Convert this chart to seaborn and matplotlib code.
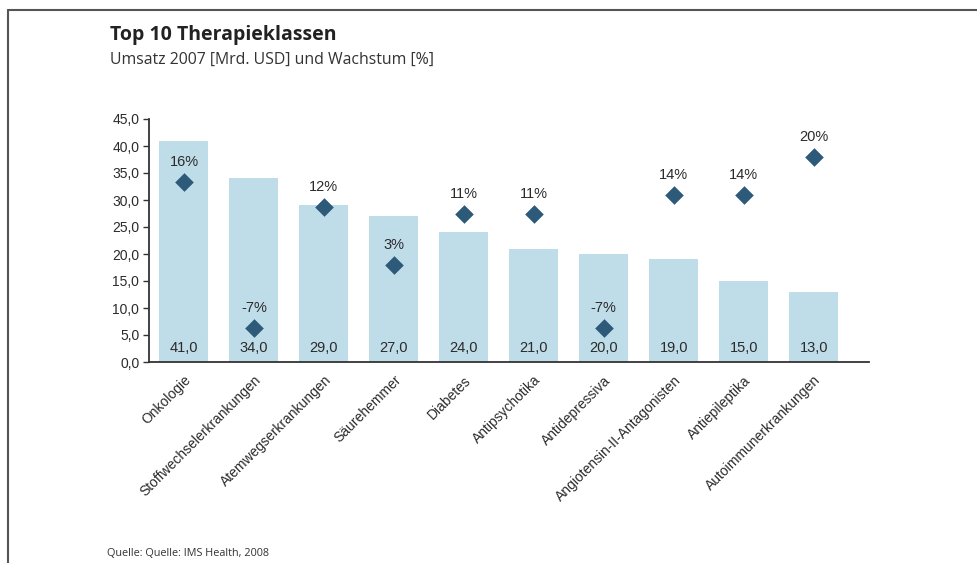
import numpy as np
import pandas as pd
import matplotlib
matplotlib.use("Agg")
import matplotlib.pyplot as plt
import seaborn as sns
from matplotlib.lines import Line2D

categories = ["Onkologie", "Stoffwechselerkrankungen", "Atemwegserkrankungen",
              "Säurehemmer", "Diabetes", "Antipsychotika", "Antidepressiva",
              "Angiotensin-II-Antagonisten", "Antiepileptika", "Autoimmunerkrankungen"]
umsatz = [41.0, 34.0, 29.0, 27.0, 24.0, 21.0, 20.0, 19.0, 15.0, 13.0]
wachstum = [16, -7, 12, 3, 11, 11, -7, 14, 14, 20]
y_ticks = [0, 5, 10, 15, 20, 25, 30, 35, 40, 45]

df = pd.DataFrame({"kat": categories, "umsatz": umsatz, "wachstum": wachstum})
df["pos"] = range(len(df))

sns.set_style("white")
plt.rcParams["font.family"] = ["Liberation Sans", "DejaVu Sans"]

fig = plt.figure(figsize=(9.78, 5.63), dpi=100)
ax = fig.add_axes([149/978, 1-362/563, 720/978, 243/563])

bar_color = "#bfdce9"
dia_color = "#2d5a79"
txt = "#2b2b2b"

sns.barplot(data=df, x="kat", y="umsatz", color=bar_color, width=0.7,
            saturation=1, ax=ax, linewidth=0)
ax.set_ylim(0, 45)
ax.set_xlim(-0.5, 9.79)
ax.set_yticks(y_ticks)
ax.set_yticklabels([f"{v:.1f}".replace(".", ",") for v in y_ticks], fontsize=10, color=txt)
ax.set_xticks(range(len(categories)))
ax.set_xticklabels(categories, rotation=45, ha="right", rotation_mode="anchor",
                   fontsize=10, color=txt)
ax.set_xlabel("")
ax.set_ylabel("")
for s in ["top", "right"]:
    ax.spines[s].set_visible(False)
for s in ["left", "bottom"]:
    ax.spines[s].set_color("#333333")
    ax.spines[s].set_linewidth(1.3)
ax.tick_params(axis="y", which="major", direction="out", length=4, width=1, color="#333333", pad=3, left=True)
ax.tick_params(axis="x", length=0, pad=8)

for i, v in enumerate(umsatz):
    ax.annotate(f"{v:.1f}".replace(".", ","), (i, 0), xytext=(0, 14),
                textcoords="offset pixels", ha="center", va="center",
                fontsize=10.5, color=txt)

ax2 = ax.twinx()
sns.scatterplot(data=df, x="pos", y="wachstum", marker="D", s=90, color=dia_color,
                edgecolor=dia_color, linewidth=0, ax=ax2, zorder=5)
ax2.set_ylim(-12.33, 25.9)
ax2.set_xlim(-0.5, 9.79)
ax2.axis("off")
for i, g in enumerate(wachstum):
    ax2.annotate(f"{g}%", (i, g), xytext=(0, 20), textcoords="offset pixels",
                 ha="center", va="center", fontsize=10.5, color=txt)

# frame lines
fig.add_artist(Line2D([8/978, 1.0], [1-10/563, 1-10/563], color="#555555", lw=1.5))
fig.add_artist(Line2D([8/978, 8/978], [0, 1-10/563], color="#555555", lw=1.5))

fig.text(110/978, 1-35/563, "Top 10 Therapieklassen", fontsize=14, fontweight="bold",
         family=["Open Sans", "DejaVu Sans"], color="#222222", va="center", ha="left")
fig.text(110/978, 1-60/563, "Umsatz 2007 [Mrd. USD] und Wachstum [%]", fontsize=11.4,
         family=["Open Sans", "DejaVu Sans"], color="#333333", va="center", ha="left")
fig.text(107/978, 1-553/563, "Quelle: Quelle: IMS Health, 2008", fontsize=7.8,
         family=["Open Sans", "DejaVu Sans"], color="#333333", va="center", ha="left")

fig.savefig("out.png", dpi=100)
